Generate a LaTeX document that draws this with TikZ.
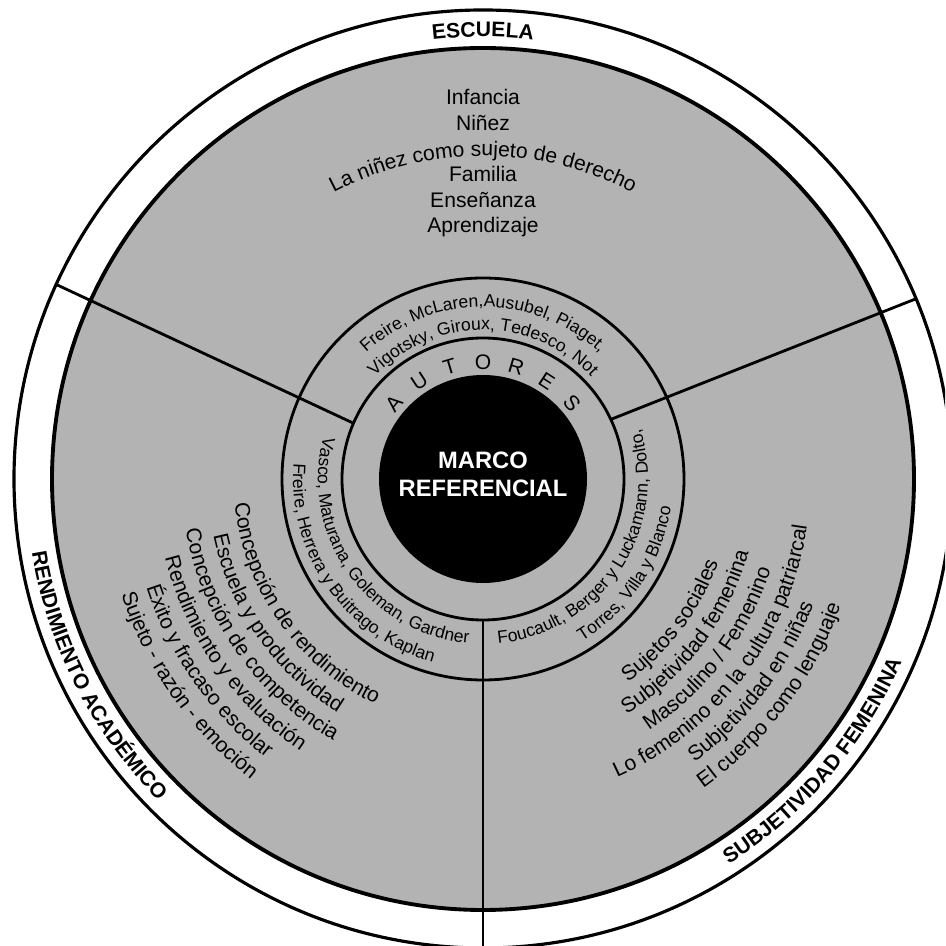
\documentclass[tikz,border=0pt]{standalone}
\usepackage{fontspec}
\setmainfont{Liberation Sans}
\usetikzlibrary{decorations.text}
\definecolor{cgray}{HTML}{B3B3B3}
\newcommand\itmfont{\fontsize{12}{15}\selectfont}
\newcommand\autfont{\fontsize{10}{12}\selectfont}
\newcommand\labfont{\fontsize{12}{14}\selectfont\bfseries}

\begin{document}
\begin{tikzpicture}[
  ring/.style={draw=black,line width=1.6pt},
  sep/.style={draw=black,line width=1.6pt},
  core/.style={circle,fill=black,minimum size=4.16cm,inner sep=0pt},
  coretxt/.style={text=white,font=\fontsize{13.5}{16}\selectfont\bfseries,align=center},
  item/.style={font=\itmfont,anchor=base,inner sep=0pt},
  letter/.style={font=\itmfont,inner sep=0pt},
  arctext/.style={decorate,decoration={text along path,text align=center,text={#1}}}]
  \useasboundingbox (-9.66,-9.34) rectangle (9.24,9.58);
  \fill[white] (-9.66,-9.34) rectangle (9.24,9.58);
  \clip (-9.66,-9.34) rectangle (9.24,9.58);
  % circles
  \draw[line width=1.8pt] (0,0) circle (9.38);
  \draw[fill=cgray,line width=2.2pt] (0,0) circle (8.62);
  \draw[ring] (0,0) circle (4.02);
  \draw[ring] (0,0) circle (2.82);
  % separators
  \foreach \ai/\ao [count=\i] in {156.7/155.5,25/22.6,270/270} {
    \coordinate (s\i-in) at (\ai:2.82);
    \coordinate (s\i-out) at (\ao:9.38);
    \draw[sep] (s\i-in) -- (s\i-out);
  }
  \node[core] (marco) at (0,0) {};
  \node[coretxt] (marcotxt) at (0,0.1) {MARCO\\REFERENCIAL};
  % autores
  \foreach \l/\a [count=\i] in {A/139.5,U/123,T/106.5,O/90,R/73.5,E/57,S/40.5}
    \node[letter,rotate=\a-90] (au\i) at (\a:2.34) {\l};
  % escuela
  \path[arctext={|\labfont|ESCUELA}] (165:8.84) arc[start angle=165,delta angle=-150,radius=8.84];
  \foreach \t/\y [count=\i] in {Infancia/7.48,Niñez/6.97,Familia/5.94,Enseñanza/5.43,Aprendizaje/4.92}
    \node[item] (esc\i) at (0,\y) {\t};
  \path[arctext={|\itmfont|La niñez como sujeto de derecho}] (165:6.46) arc[start angle=165,delta angle=-150,radius=6.46];
  \path[arctext={|\autfont|Freire, McLaren,Ausubel, Piaget,}] (165:3.44) arc[start angle=165,delta angle=-150,radius=3.44];
  \path[arctext={|\autfont|Vigotsky, Giroux, Tedesco, Not}] (165:2.98) arc[start angle=165,delta angle=-150,radius=2.98];
  % rendimiento academico
  \path[arctext={|\labfont|RENDIMIENTO ACADÉMICO}] (132:9.14) arc[start angle=132,delta angle=150,radius=9.14];
  \path[arctext={|\autfont|Vasco, Maturana, Goleman, Gardner}] (140:3.30) arc[start angle=140,delta angle=150,radius=3.30];
  \path[arctext={|\autfont|Freire, Herrera y Buitrago, Kaplan}] (140:3.80) arc[start angle=140,delta angle=150,radius=3.80];
  \path[arctext={|\itmfont|Concepción de rendimiento}] (140:4.99) arc[start angle=140,delta angle=150,radius=4.99];
  \path[arctext={|\itmfont|Escuela y productividad}] (140:5.51) arc[start angle=140,delta angle=150,radius=5.51];
  \path[arctext={|\itmfont|Concepción de competencia}] (140:6.03) arc[start angle=140,delta angle=150,radius=6.03];
  \path[arctext={|\itmfont|Rendimiento y evaluación}] (140:6.55) arc[start angle=140,delta angle=150,radius=6.55];
  \path[arctext={|\itmfont|Éxito y fracaso escolar}] (140:7.07) arc[start angle=140,delta angle=150,radius=7.07];
  \path[arctext={|\itmfont|Sujeto - razón - emoción}] (140:7.59) arc[start angle=140,delta angle=150,radius=7.59];
  % subjetividad femenina
  \path[arctext={|\labfont|SUBJETIVIDAD FEMENINA}] (244.5:9.14) arc[start angle=244.5,delta angle=150,radius=9.14];
  \path[arctext={|\autfont|Foucault, Berger y Luckamann, Dolto,}] (251.5:3.30) arc[start angle=251.5,delta angle=150,radius=3.30];
  \path[arctext={|\autfont|Torres, Villa y Blanco}] (251.5:3.80) arc[start angle=251.5,delta angle=150,radius=3.80];
  \path[arctext={|\itmfont|Sujetos sociales}] (248:4.99) arc[start angle=248,delta angle=150,radius=4.99];
  \path[arctext={|\itmfont|Subjetividad femenina}] (248:5.51) arc[start angle=248,delta angle=150,radius=5.51];
  \path[arctext={|\itmfont|Masculino / Femenino}] (248:6.03) arc[start angle=248,delta angle=150,radius=6.03];
  \path[arctext={|\itmfont|Lo femenino en la cultura patriarcal}] (248:6.55) arc[start angle=248,delta angle=150,radius=6.55];
  \path[arctext={|\itmfont|Subjetividad en niñas}] (248:7.07) arc[start angle=248,delta angle=150,radius=7.07];
  \path[arctext={|\itmfont|El cuerpo como lenguaje}] (248:7.59) arc[start angle=248,delta angle=150,radius=7.59];
\end{tikzpicture}
\end{document}
